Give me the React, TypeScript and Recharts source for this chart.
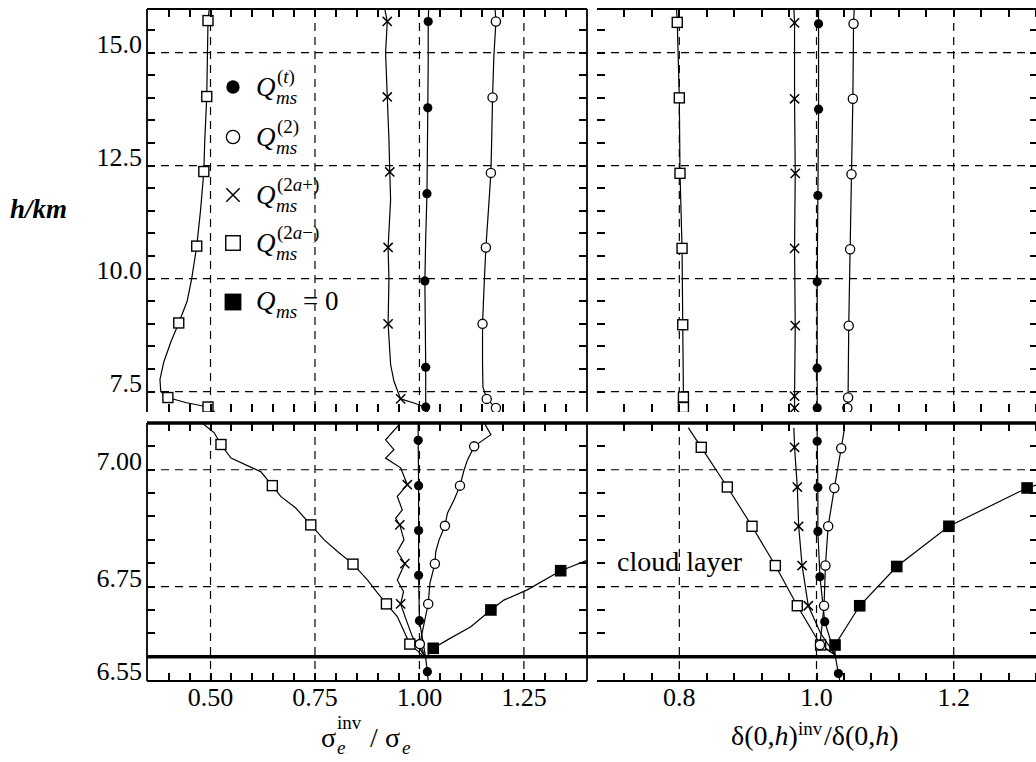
import React from 'react'
import { ComposedChart, Line, XAxis, YAxis, CartesianGrid, ReferenceLine, Legend } from 'recharts'

const FONT = '"Liberation Serif", "Times New Roman", serif'

// tick values
const leftXMajor = [0.5, 0.75, 1.0, 1.25]
const leftXMinor = [0.4, 0.45, 0.5, 0.55, 0.6, 0.65, 0.7, 0.75, 0.8, 0.85, 0.9, 0.95, 1.0, 1.05, 1.1, 1.15, 1.2, 1.25, 1.3, 1.35]
const rightXMajor = [0.8, 1.0, 1.2]
const rightXMinor = [0.72, 0.76, 0.8, 0.84, 0.88, 0.92, 0.96, 1.0, 1.04, 1.08, 1.12, 1.16, 1.2, 1.24, 1.28, 1.32]
const topYMajor = [7.5, 10, 12.5, 15]
const topYMinor = [7.5, 8, 8.5, 9, 9.5, 10, 10.5, 11, 11.5, 12, 12.5, 13, 13.5, 14, 14.5, 15, 15.5]
const bottomYGrid = [6.75, 7.0]
const bottomYLabels = [6.55, 6.75, 7.0]
const bottomYMinor = [6.6, 6.65, 6.7, 6.75, 6.8, 6.85, 6.9, 6.95, 7.0, 7.05]

// cloud layer boundaries (km)
const cloudBase = 6.6
const cloudTop = 7.1

type Pt = [number, number, number] // ratio, height km, marker shown
type Kind = 'dot' | 'ring' | 'cross' | 'box' | 'block'

// top left: sigma ratio above the cloud
const tlDot: Pt[] = [[1.022, 15.966, 0], [1.021, 15.69, 1], [1.021, 14.8, 0], [1.02, 13.78, 1], [1.019, 12.8, 0], [1.018, 11.88, 1], [1.015, 10.9, 0], [1.013, 9.95, 1], [1.014, 9.0, 0], [1.015, 8.04, 1], [1.015, 7.5, 0], [1.015, 7.16, 1], [1.015, 7.05, 0]]
const tlRing: Pt[] = [[1.181, 15.966, 0], [1.183, 15.69, 1], [1.178, 14.9, 0], [1.175, 14.01, 1], [1.173, 13.1, 0], [1.171, 12.34, 1], [1.165, 11.5, 0], [1.159, 10.69, 1], [1.155, 9.9, 0], [1.151, 9.0, 1], [1.151, 8.1, 0], [1.152, 7.6, 0], [1.161, 7.34, 1], [1.183, 7.14, 1], [1.19, 7.05, 0]]
const tlCross: Pt[] = [[0.917, 15.966, 0], [0.923, 15.69, 1], [0.919, 15.0, 0], [0.923, 14.02, 1], [0.927, 13.08, 0], [0.929, 12.36, 1], [0.931, 11.75, 0], [0.925, 10.69, 1], [0.927, 9.99, 0], [0.925, 9.0, 1], [0.931, 8.1, 0], [0.939, 7.73, 0], [0.955, 7.34, 1], [0.987, 7.25, 0], [1.015, 7.15, 0], [1.02, 7.05, 0]]
const tlBox: Pt[] = [[0.497, 15.966, 0], [0.494, 15.71, 1], [0.491, 14.03, 1], [0.486, 13.0, 0], [0.484, 12.37, 1], [0.476, 11.5, 0], [0.467, 10.72, 1], [0.455, 10.0, 0], [0.444, 9.5, 0], [0.424, 9.02, 1], [0.405, 8.6, 0], [0.388, 8.15, 0], [0.379, 7.77, 0], [0.381, 7.5, 0], [0.398, 7.37, 1], [0.44, 7.26, 0], [0.494, 7.16, 1], [0.51, 7.05, 0]]

// top right: delta ratio above the cloud
const trDot: Pt[] = [[1.003, 15.966, 0], [1.003, 15.64, 1], [1.003, 13.75, 1], [1.002, 11.84, 1], [1.001, 9.93, 1], [1.001, 8.02, 1], [1.001, 7.14, 1], [1.001, 7.05, 0]]
const trRing: Pt[] = [[1.055, 15.966, 0], [1.054, 15.64, 1], [1.053, 13.98, 1], [1.051, 12.31, 1], [1.049, 10.65, 1], [1.047, 8.96, 1], [1.046, 7.37, 1], [1.045, 7.14, 1], [1.045, 7.05, 0]]
const trCross: Pt[] = [[0.967, 15.966, 0], [0.968, 15.66, 1], [0.968, 13.98, 1], [0.969, 12.33, 1], [0.968, 10.67, 1], [0.969, 8.96, 1], [0.968, 7.4, 1], [0.968, 7.14, 1], [0.968, 7.05, 0]]
const trBox: Pt[] = [[0.796, 15.966, 0], [0.797, 15.67, 1], [0.8, 14.0, 1], [0.801, 12.33, 1], [0.804, 10.67, 1], [0.805, 8.98, 1], [0.806, 7.38, 1], [0.806, 7.15, 1], [0.806, 7.05, 0]]

// bottom left: sigma ratio inside the cloud
const blBox: Pt[] = [[0.48, 7.1, 0], [0.509, 7.079, 0], [0.525, 7.054, 1], [0.549, 7.025, 0], [0.6, 7.004, 0], [0.62, 6.996, 0], [0.648, 6.966, 1], [0.668, 6.943, 0], [0.704, 6.918, 0], [0.74, 6.882, 1], [0.772, 6.85, 0], [0.804, 6.825, 0], [0.841, 6.798, 1], [0.876, 6.764, 0], [0.9, 6.736, 0], [0.921, 6.713, 1], [0.947, 6.686, 0], [0.977, 6.627, 1], [1.015, 6.597, 0]]
const blCross: Pt[] = [[0.955, 7.1, 0], [0.919, 7.064, 0], [0.939, 7.043, 0], [0.919, 7.025, 0], [0.955, 7.004, 0], [0.971, 6.968, 1], [0.947, 6.943, 0], [0.959, 6.914, 0], [0.943, 6.896, 0], [0.953, 6.882, 1], [0.963, 6.85, 0], [0.947, 6.825, 0], [0.965, 6.799, 1], [0.947, 6.764, 0], [0.962, 6.739, 0], [0.955, 6.713, 1], [0.967, 6.682, 0], [0.983, 6.643, 0], [1.015, 6.597, 0]]
const blDot: Pt[] = [[0.997, 7.1, 0], [0.997, 7.063, 1], [0.998, 6.966, 1], [0.998, 6.87, 1], [0.998, 6.774, 1], [1.0, 6.677, 1], [1.015, 6.597, 0], [1.019, 6.568, 1], [1.021, 6.548, 0]]
const blRing: Pt[] = [[1.155, 7.1, 0], [1.171, 7.075, 0], [1.131, 7.05, 1], [1.115, 7.021, 0], [1.107, 7.0, 0], [1.097, 6.966, 1], [1.083, 6.936, 0], [1.067, 6.907, 0], [1.061, 6.88, 1], [1.047, 6.85, 0], [1.039, 6.825, 0], [1.037, 6.799, 1], [1.025, 6.757, 0], [1.021, 6.713, 1], [1.011, 6.671, 0], [1.001, 6.627, 1], [1.015, 6.597, 0]]
const blBlock: Pt[] = [[1.015, 6.597, 0], [1.033, 6.618, 1], [1.067, 6.636, 0], [1.123, 6.664, 0], [1.171, 6.7, 1], [1.202, 6.721, 0], [1.258, 6.743, 0], [1.338, 6.784, 1], [1.401, 6.806, 0]]

// bottom right: delta ratio inside the cloud
const brBox: Pt[] = [[0.813, 7.09, 0], [0.832, 7.048, 1], [0.87, 6.963, 1], [0.906, 6.879, 1], [0.94, 6.795, 1], [0.972, 6.709, 1], [1.006, 6.625, 1], [1.027, 6.604, 0]]
const brCross: Pt[] = [[0.967, 7.09, 0], [0.968, 7.048, 1], [0.972, 6.963, 1], [0.974, 6.879, 1], [0.979, 6.795, 1], [0.988, 6.709, 1], [1.006, 6.65, 0], [1.027, 6.604, 0]]
const brDot: Pt[] = [[1.001, 7.09, 0], [1.001, 7.061, 1], [1.002, 6.962, 1], [1.002, 6.868, 1], [1.005, 6.771, 1], [1.012, 6.675, 1], [1.027, 6.604, 0], [1.032, 6.564, 1], [1.034, 6.548, 0]]
const brRing: Pt[] = [[1.041, 7.09, 0], [1.036, 7.046, 1], [1.026, 6.961, 1], [1.017, 6.879, 1], [1.013, 6.795, 1], [1.011, 6.709, 1], [1.005, 6.625, 1], [1.027, 6.604, 0]]
const brBlock: Pt[] = [[1.027, 6.604, 0], [1.027, 6.625, 1], [1.063, 6.709, 1], [1.117, 6.793, 1], [1.193, 6.879, 1], [1.307, 6.961, 1], [1.322, 6.968, 0]]

const legendItems: { kind: Kind; sup: React.ReactNode }[] = [
  { kind: 'dot', sup: <>(<tspan fontStyle="italic">t</tspan>)</> },
  { kind: 'ring', sup: '(2)' },
  { kind: 'cross', sup: <>(2<tspan fontStyle="italic">a</tspan>+)</> },
  { kind: 'box', sup: <>(2<tspan fontStyle="italic">a</tspan>−)</> },
  { kind: 'block', sup: null },
]

const PAD = 5
const YW = 60
const XH = 45
const TICKLEN = 8
const BORDER = { stroke: '#000', strokeWidth: 1.8 }

function Marker({ kind, cx, cy, s = 1 }: { kind: Kind; cx: number; cy: number; s?: number }) {
  if (kind === 'dot') return <circle cx={cx} cy={cy} r={4.6 * s} fill="#000" />
  if (kind === 'ring') return <circle cx={cx} cy={cy} r={4.6 * s} fill="#fff" stroke="#000" strokeWidth={1.3} />
  if (kind === 'cross') {
    const d = 4.6 * s
    return (
      <g stroke="#000" strokeWidth={1.5}>
        <line x1={cx - d} y1={cy - d} x2={cx + d} y2={cy + d} />
        <line x1={cx - d} y1={cy + d} x2={cx + d} y2={cy - d} />
      </g>
    )
  }
  if (kind === 'box') {
    const d = 5 * s
    return <rect x={cx - d} y={cy - d} width={2 * d} height={2 * d} fill="#fff" stroke="#000" strokeWidth={1.4} />
  }
  const d = 5.8 * s
  return <rect x={cx - d} y={cy - d} width={2 * d} height={2 * d} fill="#000" />
}

const dotFor = (kind: Kind) => (props: any) => {
  const { cx, cy, payload, index } = props
  if (!payload || !payload.m || cx == null || cy == null) return <g key={`e${index}`} />
  return (
    <g key={`m${index}`}>
      <Marker kind={kind} cx={cx} cy={cy} />
    </g>
  )
}

const EmptyTick = () => <g />

const xLabel = (digits: number) => (props: any) => (
  <text x={props.x} y={props.y + 25} textAnchor="middle" fontFamily={FONT} fontSize={26} fill="#000">
    {Number(props.payload.value).toFixed(digits)}
  </text>
)

const yLabel = (digits: number) => (props: any) => (
  <text x={props.x} y={props.y} textAnchor="end" fontFamily={FONT} fontSize={26} fill="#000">
    {Number(props.payload.value).toFixed(digits)}
  </text>
)

function LegendBox() {
  const rows = [22, 72, 130, 178, 237]
  return (
    <svg width={170} height={260} style={{ overflow: 'visible' }}>
      {legendItems.map((it, i) => {
        const y = rows[i]
        const base = y + (it.sup ? 9 : 8)
        return (
          <g key={i} fontFamily={FONT} fill="#000">
            <Marker kind={it.kind} cx={18} cy={y} s={1.45} />
            <text x={41} y={base} fontSize={27} fontStyle="italic">Q</text>
            <text x={61} y={base + 8} fontSize={19} fontStyle="italic">ms</text>
            {it.sup ? (
              <text x={62} y={base - 13} fontSize={19}>{it.sup}</text>
            ) : (
              <text x={88} y={base} fontSize={27}>= 0</text>
            )}
          </g>
        )
      })}
    </svg>
  )
}

// inward tick marks on all four sides of a panel frame, placed linearly over the same domains
function FrameTicks(p: {
  w: number; h: number; px: number; py: number; pw: number; ph: number
  xDomain: [number, number]; yDomain: [number, number]; xTicks: number[]; yTicks: number[]
}) {
  const sx = (v: number) => Math.round(p.px + ((v - p.xDomain[0]) / (p.xDomain[1] - p.xDomain[0])) * p.pw)
  const sy = (v: number) => Math.round(p.py + ((p.yDomain[1] - v) / (p.yDomain[1] - p.yDomain[0])) * p.ph)
  const bottom = p.py + p.ph
  const right = p.px + p.pw
  return (
    <svg width={p.w} height={p.h} style={{ position: 'absolute', left: 0, top: 0, pointerEvents: 'none' }}>
      <g stroke="#000" strokeWidth={2}>
        {p.xTicks.map((v) => (
          <g key={`x${v}`}>
            <line x1={sx(v)} y1={bottom} x2={sx(v)} y2={bottom - TICKLEN} />
            <line x1={sx(v)} y1={p.py} x2={sx(v)} y2={p.py + TICKLEN} />
          </g>
        ))}
        {p.yTicks.map((v) => (
          <g key={`y${v}`}>
            <line x1={p.px} y1={sy(v)} x2={p.px + TICKLEN} y2={sy(v)} />
            <line x1={right} y1={sy(v)} x2={right - TICKLEN} y2={sy(v)} />
          </g>
        ))}
      </g>
    </svg>
  )
}

type PanelProps = {
  plotLeft: number
  plotTop: number
  plotW: number
  plotH: number
  xDomain: [number, number]
  yDomain: [number, number]
  xGrid: number[]
  xTicks: number[]
  yGrid: number[]
  yTicks: number[]
  xLabels?: number[]
  yLabels?: number[]
  xDigits?: number
  yDigits?: number
  series: { kind: Kind; pts: Pt[] }[]
  cloud?: { extL: number; extR: number }
  children?: React.ReactNode
}

const rowsOf = (pts: Pt[]) => pts.map(([x, h, m]) => ({ x, h, m }))

function Panel(p: PanelProps) {
  const hasY = p.yLabels != null
  const hasX = p.xLabels != null
  const w = p.plotW + 2 * PAD + (hasY ? YW : 0)
  const h = p.plotH + 2 * PAD + (hasX ? XH : 0)
  const left = p.plotLeft - PAD - (hasY ? YW : 0)
  const top = p.plotTop - PAD
  const [xa, xb] = p.xDomain
  const perPxX = (xb - xa) / p.plotW
  const x0 = xa - (p.cloud ? p.cloud.extL * perPxX : 0)
  const x1 = xb + (p.cloud ? p.cloud.extR * perPxX : 0)
  return (
    <div style={{ position: 'absolute', left, top, width: w, height: h }}>
      <ComposedChart width={w} height={h} margin={{ top: PAD, right: PAD, bottom: PAD, left: PAD }}>
        <CartesianGrid stroke="#000" strokeWidth={1.2} strokeDasharray="8 6" verticalValues={p.xGrid} horizontalValues={p.yGrid} />
        <XAxis
          type="number"
          dataKey="x"
          domain={p.xDomain}
          allowDataOverflow
          ticks={p.xLabels ?? p.xGrid}
          interval={0}
          height={hasX ? XH : 0}
          tick={hasX ? xLabel(p.xDigits ?? 1) : EmptyTick}
          tickLine={false}
          axisLine={BORDER}
          tickSize={0}
          tickMargin={0}
        />
        <XAxis xAxisId="t" type="number" orientation="top" mirror domain={p.xDomain} allowDataOverflow tick={false} tickLine={false} axisLine={BORDER} />
        <YAxis
          type="number"
          domain={p.yDomain}
          allowDataOverflow
          ticks={p.yLabels ?? p.yGrid}
          interval={0}
          width={hasY ? YW : 0}
          tick={hasY ? yLabel(p.yDigits ?? 1) : EmptyTick}
          tickLine={false}
          axisLine={BORDER}
          tickSize={0}
          tickMargin={5}
        />
        <YAxis yAxisId="r" type="number" orientation="right" mirror domain={p.yDomain} allowDataOverflow tick={false} tickLine={false} axisLine={BORDER} />
        {p.cloud && (
          <ReferenceLine segment={[{ x: x0, y: cloudBase }, { x: x1, y: cloudBase }]} stroke="#000" strokeWidth={3.5} ifOverflow="visible" />
        )}
        {p.cloud && (
          <ReferenceLine segment={[{ x: x0, y: cloudTop }, { x: x1, y: cloudTop }]} stroke="#000" strokeWidth={3.5} ifOverflow="visible" />
        )}
        {p.series.map((s, i) => (
          <Line
            key={i}
            data={rowsOf(s.pts)}
            dataKey="h"
            type="linear"
            stroke="#000"
            strokeWidth={1.2}
            dot={dotFor(s.kind)}
            activeDot={false}
            legendType="none"
            isAnimationActive={false}
          />
        ))}
        {p.children}
      </ComposedChart>
      <FrameTicks
        w={w} h={h}
        px={PAD + (hasY ? YW : 0)} py={PAD} pw={p.plotW} ph={p.plotH}
        xDomain={p.xDomain} yDomain={p.yDomain} xTicks={p.xTicks} yTicks={p.yTicks}
      />
    </div>
  )
}

const leftX: [number, number] = [0.348, 1.401]
const rightX: [number, number] = [0.68, 1.3229]
const topY: [number, number] = [7.05, 15.966]
const bottomY: [number, number] = [6.548, 7.1]

export default function App() {
  const txt = { fontFamily: FONT, fill: '#000' }
  return (
    <div style={{ position: 'absolute', left: 0, top: 0, width: 1036, height: 762, overflow: 'hidden', background: '#fff' }}>
      <Panel
        plotLeft={147} plotTop={9} plotW={440} plotH={403}
        xDomain={leftX} yDomain={topY}
        xGrid={leftXMajor} xTicks={leftXMinor} yGrid={topYMajor} yTicks={topYMinor}
        yLabels={topYMajor} yDigits={1}
        series={[{ kind: 'box', pts: tlBox }, { kind: 'cross', pts: tlCross }, { kind: 'ring', pts: tlRing }, { kind: 'dot', pts: tlDot }]}
      >
        <Legend
          layout="vertical"
          align="center"
          verticalAlign="middle"
          wrapperStyle={{ left: 133, top: 61, width: 170, height: 260 }}
          content={() => <LegendBox />}
        />
      </Panel>
      <Panel
        plotLeft={597} plotTop={9} plotW={441} plotH={403}
        xDomain={rightX} yDomain={topY}
        xGrid={rightXMajor} xTicks={rightXMinor} yGrid={topYMajor} yTicks={topYMinor}
        series={[{ kind: 'box', pts: trBox }, { kind: 'cross', pts: trCross }, { kind: 'ring', pts: trRing }, { kind: 'dot', pts: trDot }]}
      />
      <Panel
        plotLeft={147} plotTop={423} plotW={440} plotH={258}
        xDomain={leftX} yDomain={bottomY}
        xGrid={leftXMajor} xTicks={leftXMinor} yGrid={bottomYGrid} yTicks={bottomYMinor}
        xLabels={leftXMajor} xDigits={2} yLabels={bottomYLabels} yDigits={2}
        cloud={{ extL: 0, extR: 5 }}
        series={[{ kind: 'block', pts: blBlock }, { kind: 'box', pts: blBox }, { kind: 'cross', pts: blCross }, { kind: 'ring', pts: blRing }, { kind: 'dot', pts: blDot }]}
      />
      <Panel
        plotLeft={597} plotTop={423} plotW={441} plotH={258}
        xDomain={rightX} yDomain={bottomY}
        xGrid={rightXMajor} xTicks={rightXMinor} yGrid={bottomYGrid} yTicks={bottomYMinor}
        xLabels={rightXMajor} xDigits={1}
        cloud={{ extL: 5, extR: 0 }}
        series={[{ kind: 'block', pts: brBlock }, { kind: 'box', pts: brBox }, { kind: 'cross', pts: brCross }, { kind: 'ring', pts: brRing }, { kind: 'dot', pts: brDot }]}
      />
      <svg width={1036} height={762} style={{ position: 'absolute', left: 0, top: 0, pointerEvents: 'none' }}>
        <text x={10} y={218} fontSize={27} fontStyle="italic" fontWeight="bold" {...txt}>h/km</text>
        <text x={617} y={571} fontSize={28} {...txt}>cloud layer</text>
        <g {...txt}>
          <text x={321} y={747} fontSize={28}>σ</text>
          <text x={337} y={729} fontSize={19}>inv</text>
          <text x={337} y={754} fontSize={19} fontStyle="italic">e</text>
          <text x={370} y={747} fontSize={28}>/</text>
          <text x={385} y={747} fontSize={28}>σ</text>
          <text x={402} y={754} fontSize={19} fontStyle="italic">e</text>
        </g>
        <g {...txt}>
          <text x={731} y={745} fontSize={28}>δ(0,<tspan fontStyle="italic">h</tspan>)</text>
          <text x={798} y={735} fontSize={19}>inv</text>
          <text x={824} y={745} fontSize={28}>/δ(0,<tspan fontStyle="italic">h</tspan>)</text>
        </g>
      </svg>
    </div>
  )
}
